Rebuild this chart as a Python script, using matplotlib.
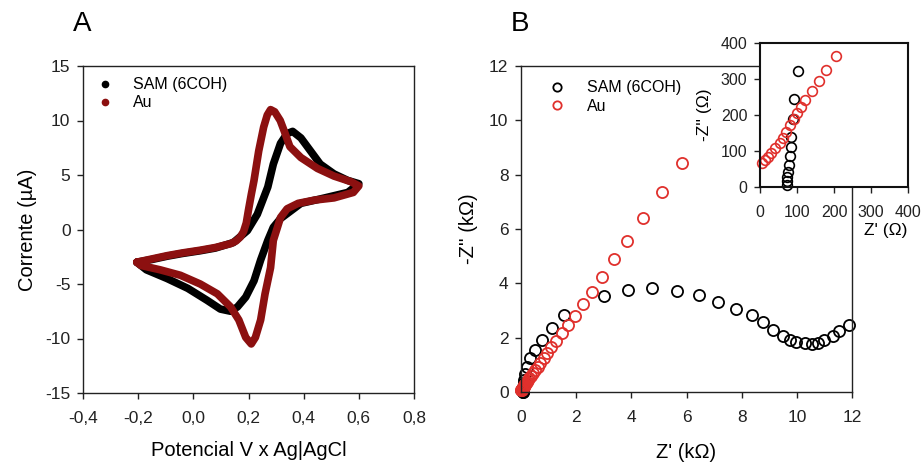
import matplotlib
matplotlib.use("Agg")
import matplotlib.pyplot as plt
from matplotlib.lines import Line2D

plt.rcParams['font.family'] = ['Liberation Sans', 'DejaVu Sans']
plt.rcParams['axes.unicode_minus'] = False

# ---- Cyclic voltammetry (panel A): potential (V) and current (uA) ----
# forward (anodic) scan followed by reverse (cathodic) scan
E_au = [-0.205, -0.15, -0.095, -0.04, 0.025, 0.08, 0.135, 0.155, 0.17, 0.182, 0.192, 0.20,
        0.21, 0.22, 0.237, 0.255, 0.268, 0.28, 0.295, 0.315, 0.33, 0.35, 0.39, 0.45,
        0.51, 0.57, 0.60,
        0.58, 0.51, 0.44, 0.38, 0.34, 0.316, 0.305, 0.29, 0.28, 0.26, 0.244, 0.225, 0.21,
        0.19, 0.165, 0.135, 0.087, 0.025, -0.047, -0.12, -0.19, -0.205]
I_au = [-3.0, -2.7, -2.4, -2.15, -1.9, -1.65, -1.3, -1.05, -0.7, -0.2, 0.6, 1.8,
        3.2, 4.5, 7.2, 9.4, 10.5, 11.0, 10.8, 10.0, 9.0, 7.6, 6.6, 5.6,
        4.9, 4.4, 4.0,
        3.4, 2.9, 2.7, 2.4, 1.9, 1.1, 0.2, -1.0, -3.5, -5.9, -8.3, -9.9, -10.5,
        -9.9, -8.3, -7.1, -5.9, -5.0, -4.2, -3.7, -3.3, -3.0]

E_sam = [-0.205, -0.15, -0.095, -0.04, 0.025, 0.08, 0.145, 0.196, 0.232, 0.27, 0.29,
         0.316, 0.34, 0.36, 0.39, 0.425, 0.46, 0.51, 0.56, 0.60,
         0.56, 0.46, 0.39, 0.353, 0.316, 0.29, 0.27, 0.244, 0.22, 0.19, 0.16, 0.135,
         0.098, 0.05, -0.02, -0.095, -0.17, -0.205]
I_sam = [-3.0, -2.75, -2.45, -2.2, -1.95, -1.7, -1.2, -0.1, 1.4, 3.9, 6.0,
         7.9, 8.8, 9.0, 8.4, 7.2, 6.0, 5.1, 4.5, 4.2,
         3.4, 2.8, 2.4, 1.7, 1.0, 0.2, -1.0, -2.8, -4.7, -6.2, -7.1, -7.5,
         -7.3, -6.5, -5.4, -4.5, -3.7, -3.0]

# ---- Nyquist plot (panel B): Z' and -Z'' in kOhm ----
zre_sam = [11.90, 11.54, 11.32, 11.00, 10.78, 10.54, 10.30, 9.97, 9.75, 9.49, 9.15, 8.76,
           8.36, 7.80, 7.15, 6.46, 5.67, 4.76, 3.87, 3.02, 1.55, 1.11, 0.75, 0.51, 0.33,
           0.21, 0.14, 0.115, 0.103, 0.092, 0.089, 0.085, 0.083, 0.080, 0.078, 0.076,
           0.074, 0.073, 0.073]
zim_sam = [2.47, 2.26, 2.06, 1.91, 1.82, 1.75, 1.79, 1.85, 1.91, 2.06, 2.28, 2.59,
           2.83, 3.05, 3.32, 3.57, 3.73, 3.82, 3.75, 3.53, 2.82, 2.34, 1.91, 1.55, 1.24,
           0.93, 0.66, 0.45, 0.322, 0.244, 0.188, 0.140, 0.111, 0.085, 0.062, 0.043,
           0.029, 0.016, 0.006]

zre_au = [5.83, 5.10, 4.44, 3.86, 3.38, 2.95, 2.56, 2.24, 1.96, 1.72, 1.47, 1.27, 1.10,
          0.95, 0.82, 0.70, 0.60, 0.51, 0.43, 0.36, 0.30, 0.25, 0.206, 0.179, 0.159,
          0.140, 0.122, 0.112, 0.101, 0.091, 0.080, 0.071, 0.062, 0.053, 0.041, 0.031,
          0.022, 0.013, 0.005]
zim_au = [8.44, 7.35, 6.39, 5.57, 4.89, 4.24, 3.67, 3.24, 2.81, 2.47, 2.16, 1.89, 1.65,
          1.43, 1.25, 1.07, 0.93, 0.80, 0.69, 0.58, 0.50, 0.43, 0.363, 0.326, 0.295,
          0.266, 0.241, 0.223, 0.206, 0.189, 0.172, 0.154, 0.135, 0.122, 0.108, 0.094,
          0.083, 0.074, 0.066]

labels = ['SAM (6COH)', 'Au']
cv_colors = ['black', '#8c1010']
eis_colors = ['black', '#e0302c']

W, H = 923, 463
fig = plt.figure(figsize=(W / 100, H / 100), dpi=100)


def box(l, t, r, b):
    return [l / W, 1 - b / H, (r - l) / W, (b - t) / H]


def style(ax, size=12.5):
    for s in ax.spines.values():
        s.set_linewidth(1.0)
        s.set_color('#222222')
    ax.tick_params(direction='out', length=4, width=1.0, labelsize=size,
                   colors='#222222', top=False, right=False)
    ax.tick_params(axis='x', pad=9)
    ax.tick_params(axis='y', pad=5)


# Panel A
axA = fig.add_axes(box(83, 66, 414, 393))
axA.plot(E_sam, I_sam, color=cv_colors[0], lw=5.5, solid_capstyle='round',
         solid_joinstyle='round')
axA.plot(E_au, I_au, color=cv_colors[1], lw=5.5, solid_capstyle='round',
         solid_joinstyle='round')
axA.set_xlim(-0.4, 0.8)
axA.set_ylim(-15, 15)
axA.set_xticks([-0.4, -0.2, 0.0, 0.2, 0.4, 0.6, 0.8])
axA.set_xticklabels(['-0,4', '-0,2', '0,0', '0,2', '0,4', '0,6', '0,8'])
axA.set_yticks([-15, -10, -5, 0, 5, 10, 15])
style(axA)
axA.set_xlabel('Potencial V x Ag|AgCl', fontsize=14.5, labelpad=11)
axA.set_ylabel('Corrente (\u00b5A)', fontsize=14.5, labelpad=6)
hA = [Line2D([], [], ls='none', marker='o', ms=4.5, color=c) for c in cv_colors]
axA.legend(hA, labels, loc='upper left', bbox_to_anchor=(0.01, 0.995), frameon=False,
           fontsize=11.5, handlelength=1.2, handletextpad=1.1, labelspacing=0.2,
           borderaxespad=0.2)
fig.text(82 / W, 1 - 24 / H, 'A', fontsize=20, ha='center', va='center')

# Panel B
axB = fig.add_axes(box(521, 66, 852, 392))
axB.plot(zre_sam, zim_sam, ls='none', marker='o', ms=8, mfc='none', mew=1.3,
         mec=eis_colors[0], clip_on=False)
axB.plot(zre_au, zim_au, ls='none', marker='o', ms=8, mfc='none', mew=1.3,
         mec=eis_colors[1], clip_on=False)
axB.set_xlim(0, 12)
axB.set_ylim(0, 12)
axB.set_xticks(range(0, 13, 2))
axB.set_yticks(range(0, 13, 2))
style(axB)
axB.set_xlabel("Z' (k\u03a9)", fontsize=14.5, labelpad=13)
axB.set_ylabel("-Z'' (k\u03a9)", fontsize=14.5, labelpad=8)
hB = [Line2D([], [], ls='none', marker='o', ms=6, mfc='none', mew=1.3, mec=c)
      for c in eis_colors]
axB.legend(hB, labels, loc='upper left', bbox_to_anchor=(0.05, 0.985), frameon=False,
           fontsize=11.5, handlelength=1.2, handletextpad=1.3, labelspacing=0.2,
           borderaxespad=0.2)
fig.text(520 / W, 1 - 24 / H, 'B', fontsize=20, ha='center', va='center')

# Inset: high-frequency region in Ohm (only points inside the 0-400 window)
axI = fig.add_axes(box(760, 43, 908, 187))
axI.set_zorder(5)
for zr, zi, c in ((zre_sam, zim_sam, eis_colors[0]), (zre_au, zim_au, eis_colors[1])):
    pts = [(a * 1000, b * 1000) for a, b in zip(zr, zi) if a <= 0.4 and b <= 0.4]
    axI.plot([p[0] for p in pts], [p[1] for p in pts], ls='none', marker='o', ms=7,
             mfc='none', mew=1.2, mec=c, clip_on=False)
axI.set_xlim(0, 400)
axI.set_ylim(0, 400)
axI.set_xticks(range(0, 401, 100))
axI.set_yticks(range(0, 401, 100))
style(axI, size=11.5)
for s in axI.spines.values():
    s.set_linewidth(1.5)
    s.set_color('#111111')
axI.set_ylabel("-Z'' (\u03a9)", fontsize=12.5, labelpad=6)
fig.text(886 / W, 1 - 231 / H, "Z' (\u03a9)", fontsize=12.5, ha='center', va='center')

fig.savefig('out.png', dpi=100)
